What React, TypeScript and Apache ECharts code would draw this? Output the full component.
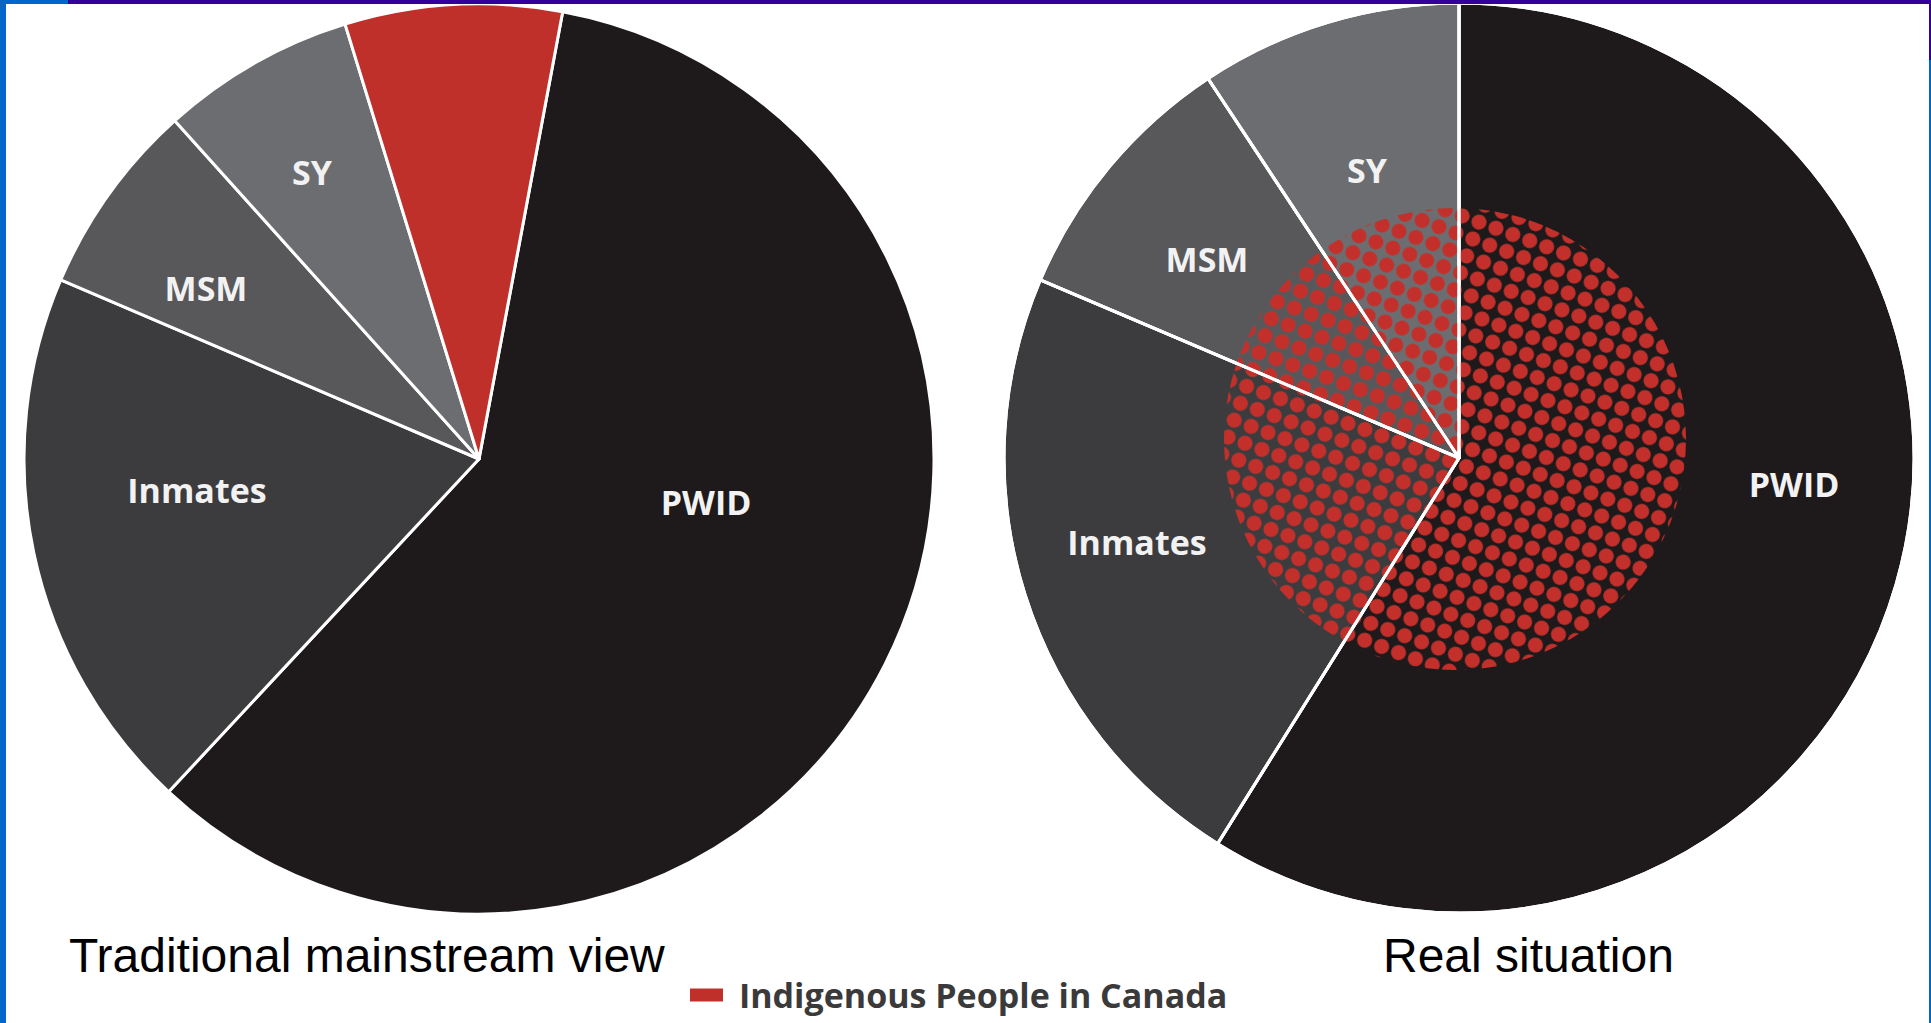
import React, { useEffect, useRef } from 'react';
import * as echarts from 'echarts';

// ---- data (percent of the pie) ----
const traditionalCategories = ['PWID', 'Inmates', 'MSM', 'SY', 'Indigenous People in Canada'];
const traditionalValues = [59.0, 19.5, 6.9, 6.9, 7.7];
const realCategories = ['PWID', 'Inmates', 'MSM', 'SY'];
const realValues = [58.9, 22.5, 9.3, 9.3];
const legendName = 'Indigenous People in Canada';
const indigenousOverlay = [100];
const captions = ['Traditional mainstream view', 'Real situation'];

// ---- layout / style (not data) ----
const W = 1931;
const H = 1023;
const LEFT_CENTER = [479, 459];
const RIGHT_CENTER = [1459, 458];
const RADIUS = 455;
const DOT_CENTER = [1455, 439];
const DOT_RADIUS = 231;
const LEFT_LABEL_OFFSETS = [[227, 43], [-282, 31], [-273, -171], [-167, -287]];
const RIGHT_LABEL_OFFSETS = [[335, 26], [-322, 84], [-252, -199], [-92, -288]];
const SLICE_COLORS: Record<string, string> = {
  PWID: '#1e1a1b',
  Inmates: '#3c3c3e',
  MSM: '#58585b',
  SY: '#6c6d70',
  'Indigenous People in Canada': '#c0302b',
};
const RED = '#c3302b';

export default function App() {
  const ref = useRef<HTMLDivElement>(null);

  useEffect(() => {
    if (!ref.current) return;
    const chart = echarts.init(ref.current, null, { renderer: 'svg' });

    const labelStyle = {
      show: true,
      position: 'inside',
      color: '#f2f2f2',
      fontFamily: 'Open Sans',
      fontWeight: 700,
      fontSize: 34,
    };

    const makeLayout = (center: number[], offsets: number[][]) => (params: any) => {
      const o = offsets[params.dataIndex];
      if (!o) return {};
      return { x: center[0] + o[0], y: center[1] + o[1], align: 'center', verticalAlign: 'middle' };
    };

    const leftData = traditionalCategories.map((name, i) => ({
      name,
      value: traditionalValues[i],
      itemStyle: { color: SLICE_COLORS[name] },
      label: name === legendName ? { show: false } : undefined,
    }));
    const rightData = realCategories.map((name, i) => ({
      name,
      value: realValues[i],
      itemStyle: { color: SLICE_COLORS[name] },
    }));
    const rightBorderData = realCategories.map((name, i) => ({
      name,
      value: realValues[i],
    }));

    const option: any = {
      animation: false,
      backgroundColor: '#ffffff',
      legend: {
        data: [legendName],
        left: 683,
        top: 973,
        icon: 'rect',
        itemWidth: 35,
        itemHeight: 15,
        selectedMode: false,
        textStyle: {
          fontFamily: 'Open Sans',
          fontWeight: 700,
          fontSize: 34,
          color: '#3a3a3a',
          padding: [0, 0, 0, 10],
        },
      },
      series: [
        {
          type: 'pie',
          name: 'Traditional mainstream view',
          center: LEFT_CENTER,
          radius: RADIUS,
          startAngle: 79.4,
          clockwise: true,
          z: 2,
          silent: true,
          avoidLabelOverlap: false,
          itemStyle: { borderColor: '#ffffff', borderWidth: 3 },
          label: labelStyle,
          labelLine: { show: false },
          labelLayout: makeLayout(LEFT_CENTER, LEFT_LABEL_OFFSETS),
          emphasis: { disabled: true },
          data: leftData,
        },
        {
          type: 'pie',
          name: 'Real situation',
          center: RIGHT_CENTER,
          radius: RADIUS,
          startAngle: 90,
          clockwise: true,
          z: 2,
          silent: true,
          avoidLabelOverlap: false,
          itemStyle: { borderColor: '#ffffff', borderWidth: 3 },
          label: labelStyle,
          labelLine: { show: false },
          labelLayout: makeLayout(RIGHT_CENTER, RIGHT_LABEL_OFFSETS),
          emphasis: { disabled: true },
          data: rightData,
        },
        {
          type: 'pie',
          name: 'Indigenous dots',
          center: DOT_CENTER,
          radius: DOT_RADIUS,
          z: 3,
          silent: true,
          label: { show: false },
          labelLine: { show: false },
          emphasis: { disabled: true },
          itemStyle: {
            color: 'rgba(0,0,0,0)',
            borderWidth: 0,
            decal: {
              symbol: 'circle',
              symbolSize: 1,
              color: RED,
              backgroundColor: 'rgba(0,0,0,0)',
              dashArrayX: [15, 3],
              dashArrayY: [15, 3],
              rotation: 0.35,
            },
          },
          data: indigenousOverlay.map((v) => ({ name: legendName, value: v })),
        },
        {
          type: 'pie',
          name: 'Real situation borders',
          center: RIGHT_CENTER,
          radius: RADIUS,
          startAngle: 90,
          clockwise: true,
          z: 4,
          silent: true,
          label: { show: false },
          labelLine: { show: false },
          emphasis: { disabled: true },
          itemStyle: { color: 'rgba(0,0,0,0)', borderColor: '#ffffff', borderWidth: 3 },
          data: rightBorderData,
        },
      ],
      graphic: [
        { type: 'rect', shape: { x: 0, y: 0, width: 6, height: H }, style: { fill: '#0066cc' }, z: 10 },
        { type: 'rect', shape: { x: 0, y: 0, width: 68, height: 4 }, style: { fill: '#0066cc' }, z: 10 },
        { type: 'rect', shape: { x: 68, y: 0, width: W - 68, height: 4 }, style: { fill: '#330099' }, z: 10 },
        { type: 'rect', shape: { x: W - 2, y: 0, width: 2, height: 60 }, style: { fill: '#330099' }, z: 10 },
        { type: 'rect', shape: { x: W - 2, y: 60, width: 2, height: H - 60 }, style: { fill: '#0066cc' }, z: 10 },
        {
          type: 'text',
          x: 69,
          y: 955,
          z: 10,
          style: {
            text: captions[0],
            fill: '#000000',
            fontFamily: 'Liberation Sans',
            fontSize: 48,
            align: 'left',
            verticalAlign: 'middle',
          },
        },
        {
          type: 'text',
          x: 1383,
          y: 955,
          z: 10,
          style: {
            text: captions[1],
            fill: '#000000',
            fontFamily: 'Liberation Sans',
            fontSize: 48,
            align: 'left',
            verticalAlign: 'middle',
          },
        },
      ],
    };

    chart.setOption(option);
    return () => chart.dispose();
  }, []);

  return (
    <div
      ref={ref}
      style={{ position: 'fixed', left: 0, top: 0, width: W, height: H, background: '#ffffff' }}
    />
  );
}
